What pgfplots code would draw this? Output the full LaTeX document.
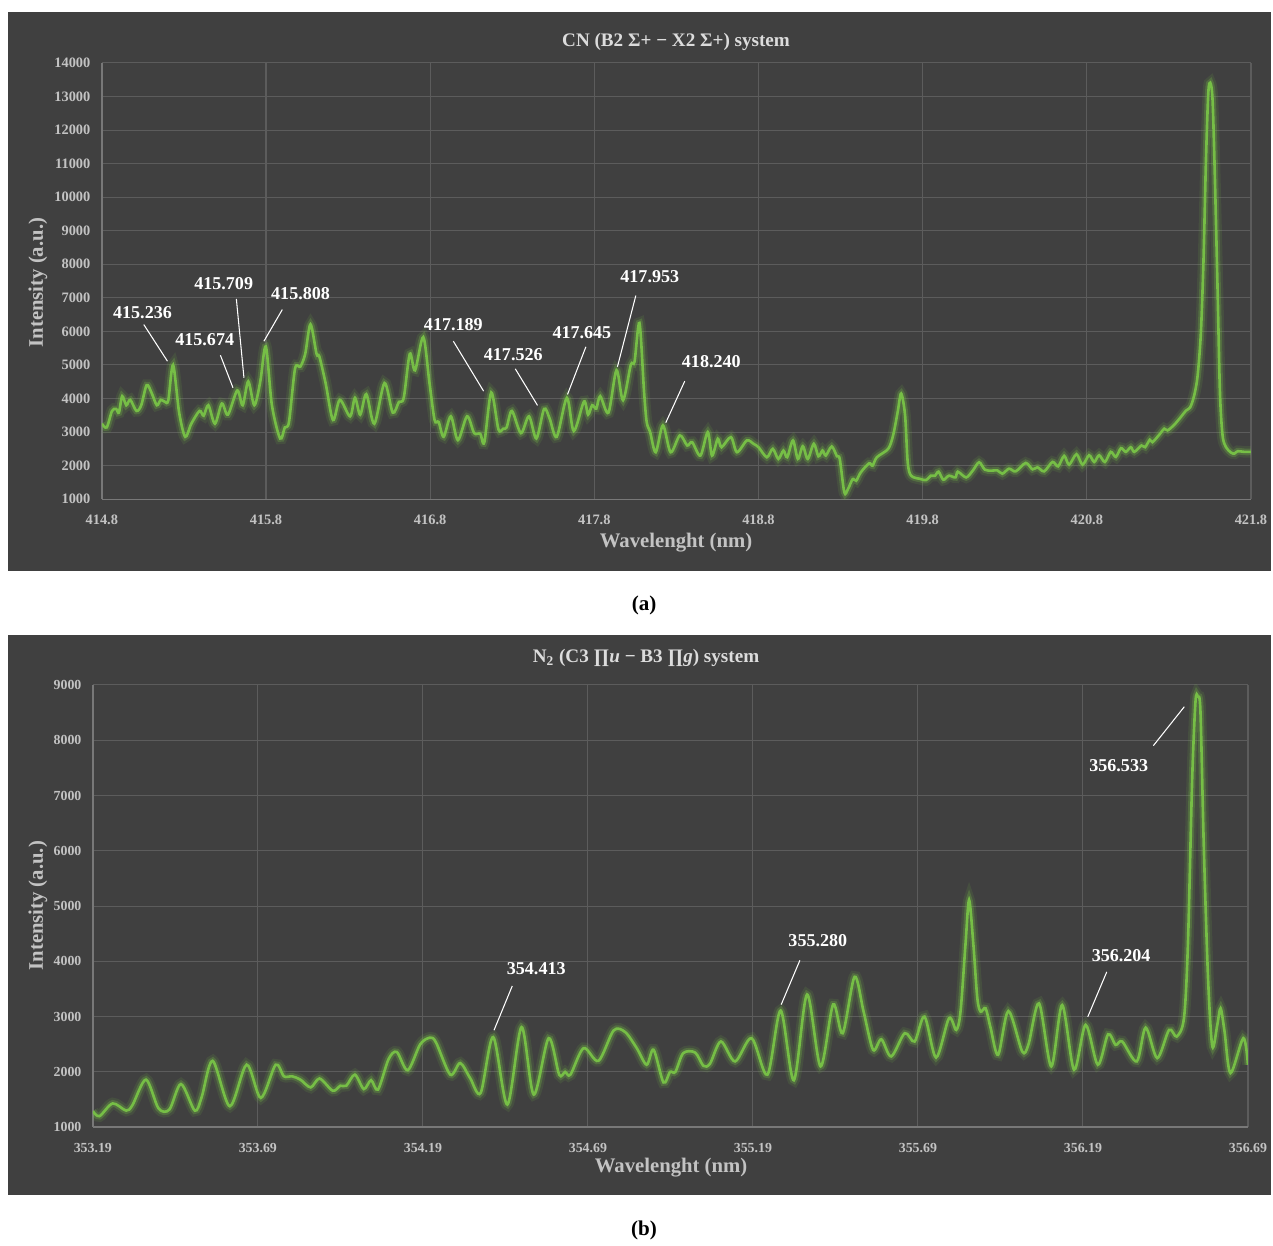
\documentclass[border=0pt]{standalone}
\usepackage{pgfplots}
\pgfplotsset{compat=1.18}
\usepackage{pgfplotstable}
\usepackage{fontspec}
\setmainfont{Liberation Serif}

\definecolor{panelbg}{RGB}{64,64,64}
\definecolor{gridgray}{RGB}{92,92,92}
\definecolor{axisgray}{RGB}{120,120,120}
\definecolor{ticktext}{RGB}{195,195,195}
\definecolor{titletext}{RGB}{220,220,220}
\definecolor{specgreen}{RGB}{118,190,70}

% CN band, wavelength (nm) vs intensity (a.u.)
\pgfplotstableread{
x y
414.800 3250
414.830 3140
414.862 3630
414.887 3690
414.904 3580
414.924 4070
414.949 3800
414.973 3960
415.011 3630
415.040 3800
415.073 4400
415.102 4180
415.135 3800
415.159 3960
415.185 3900
415.205 3950
415.234 5000
415.271 3580
415.308 2860
415.345 3250
415.395 3630
415.420 3490
415.449 3800
415.489 3250
415.531 3850
415.568 3520
415.625 4240
415.658 3800
415.692 4510
415.729 3800
415.765 4500
415.799 5550
415.836 3800
415.886 2810
415.915 3140
415.940 3300
415.977 4890
416.009 4950
416.039 5330
416.071 6210
416.108 5330
416.125 5250
416.163 4460
416.208 3360
416.250 3960
416.312 3470
416.342 4020
416.374 3520
416.411 4130
416.460 3250
416.522 4460
416.572 3580
416.610 3900
416.639 4020
416.676 5330
416.708 4840
416.758 5830
416.795 4500
416.827 3360
416.852 3300
416.882 2860
416.926 3470
416.969 2760
417.025 3470
417.068 2970
417.105 2950
417.130 2700
417.172 4180
417.216 3080
417.245 3100
417.266 3140
417.298 3630
417.353 2970
417.402 3470
417.447 2810
417.494 3690
417.528 3400
417.571 2860
417.633 4020
417.675 3030
417.737 3910
417.762 3520
417.787 3800
417.812 3700
417.836 4070
417.886 3580
417.935 4840
417.975 3950
418.022 5000
418.045 5100
418.075 6250
418.103 4200
418.119 3300
418.140 3000
418.174 2400
418.218 3200
418.265 2400
418.321 2900
418.366 2600
418.396 2700
418.446 2300
418.491 3000
418.517 2300
418.552 2800
418.575 2550
418.632 2850
418.669 2400
418.729 2750
418.770 2650
418.800 2550
418.851 2250
418.887 2500
418.921 2200
418.952 2450
418.975 2250
419.010 2750
419.040 2200
419.070 2580
419.100 2200
419.137 2650
419.165 2280
419.190 2450
419.210 2300
419.246 2570
419.278 2280
419.295 2200
419.323 1200
419.345 1300
419.374 1600
419.395 1550
419.423 1800
419.474 2070
419.495 2000
419.521 2250
419.590 2500
419.620 2900
419.648 3600
419.669 4150
419.693 3500
419.709 2100
419.730 1700
419.789 1600
419.820 1570
419.850 1700
419.875 1700
419.897 1820
419.926 1580
419.960 1700
420.000 1650
420.014 1820
420.065 1650
420.105 1850
420.144 2100
420.179 1880
420.220 1850
420.255 1860
420.286 1760
420.326 1910
420.367 1830
420.428 2080
420.469 1890
420.500 1950
420.540 1830
420.591 2110
420.625 1980
420.662 2290
420.692 2030
420.737 2340
420.774 2030
420.814 2310
420.845 2110
420.875 2310
420.910 2110
420.946 2410
420.977 2260
421.008 2520
421.038 2410
421.068 2550
421.089 2410
421.133 2600
421.155 2550
421.184 2770
421.200 2700
421.241 2920
421.272 3100
421.292 3050
421.333 3220
421.373 3450
421.404 3640
421.430 3740
421.454 4090
421.475 4680
421.495 5970
421.511 8150
421.526 11120
421.540 13100
421.552 13410
421.566 12900
421.580 10620
421.597 7160
421.611 4190
421.627 2900
421.648 2550
421.678 2390
421.699 2360
421.719 2430
421.759 2410
421.800 2410
}\cndata

% N2 band
\pgfplotstableread{
x y
353.190 1290
353.210 1200
353.250 1430
353.291 1300
353.310 1400
353.351 1860
353.389 1340
353.422 1320
353.457 1780
353.499 1300
353.520 1550
353.553 2200
353.605 1380
353.656 2130
353.699 1530
353.744 2130
353.769 1920
353.794 1920
353.819 1860
353.850 1720
353.877 1880
353.917 1660
353.940 1750
353.958 1750
353.984 1950
354.011 1690
354.033 1850
354.054 1680
354.086 2230
354.111 2360
354.144 2030
354.182 2500
354.212 2620
354.230 2530
354.273 1950
354.303 2160
354.333 1890
354.365 1620
354.403 2630
354.446 1410
354.489 2810
354.526 1590
354.571 2610
354.603 1950
354.621 2000
354.637 1950
354.677 2430
354.722 2200
354.768 2750
354.803 2720
354.838 2430
354.868 2130
354.889 2400
354.919 1810
354.939 2000
354.955 2000
354.979 2340
355.015 2350
355.040 2110
355.060 2150
355.093 2550
355.136 2190
355.186 2610
355.234 1950
355.274 3110
355.314 1850
355.354 3400
355.395 2100
355.433 3220
355.462 2700
355.498 3720
355.525 3100
355.554 2400
355.579 2590
355.609 2280
355.650 2700
355.680 2550
355.710 3000
355.745 2260
355.784 2970
355.806 2760
355.819 3090
355.834 4300
355.845 5110
355.858 4300
355.870 3330
355.880 3090
355.895 3150
355.910 2800
355.933 2310
355.964 3100
356.006 2370
356.025 2500
356.057 3240
356.094 2100
356.127 3210
356.163 2040
356.198 2850
356.235 2130
356.266 2680
356.289 2490
356.309 2550
356.353 2190
356.380 2800
356.415 2250
356.451 2760
356.474 2640
356.496 2970
356.508 4300
356.521 7310
356.531 8700
356.538 8790
356.546 8520
356.556 6110
356.569 3700
356.582 2460
356.597 2850
356.607 3150
356.619 2730
356.637 1980
356.676 2610
356.690 2130
}\ntwodata

\pgfplotsset{
  panel/.style={
    scale only axis,
    anchor=south west,
    axis lines*=left,
    axis line style={-, draw=axisgray, line width=0.8pt},
    grid=major,
    major grid style={draw=gridgray, line width=0.6pt},
    major tick length=0pt,
    scaled y ticks=false,
    scaled x ticks=false,
    tick label style={text=ticktext, font=\bfseries\fontsize{8.2}{9}\selectfont},
    /pgf/number format/1000 sep={},
    /pgf/number format/assume math mode=true,
    yticklabel style={xshift=-3pt},
    xticklabel style={yshift=-5.5pt},
    clip=true,
  },
  glowA/.style={draw=specgreen, line width=6.5pt, opacity=0.12, smooth, tension=0.5, no markers},
  glowB/.style={draw=specgreen, line width=3.8pt, opacity=0.28, smooth, tension=0.5, no markers},
  spec/.style={draw=specgreen, line width=1.5pt, smooth, tension=0.5, no markers},
}

\begin{document}
\begin{tikzpicture}
\begin{scope}[x=0.02cm, y=-0.02cm]
  \fill[white] (0,0) rectangle (1273,1244);
  \fill[panelbg] (8,12) rectangle (1273,572);
  \fill[panelbg] (8,636) rectangle (1273,1197);
\end{scope}

% (a) CN
\begin{axis}[panel,
  at={(2.04cm,-10cm)},
  width=23.02cm, height=8.74cm,
  xmin=414.8, xmax=421.8, ymin=1000, ymax=14000,
  xtick={414.8,415.8,416.8,417.8,418.8,419.8,420.8,421.8},
  xticklabels={414.8,415.8,416.8,417.8,418.8,419.8,420.8,421.8},
  ytick={1000,2000,...,14000},
  yticklabels={1000,2000,3000,4000,5000,6000,7000,8000,9000,10000,11000,12000,13000,14000},
]
  \addplot[glowA] table {\cndata};
  \addplot[glowB] table {\cndata};
  \addplot[spec] table {\cndata};
\end{axis}

% (b) N2
\begin{axis}[panel,
  at={(1.86cm,-22.58cm)},
  width=23.14cm, height=8.86cm,
  xmin=353.19, xmax=356.69, ymin=1000, ymax=9000,
  xtick={353.19,353.69,354.19,354.69,355.19,355.69,356.19,356.69},
  xticklabels={353.19,353.69,354.19,354.69,355.19,355.69,356.19,356.69},
  ytick={1000,2000,...,9000},
  yticklabels={1000,2000,3000,4000,5000,6000,7000,8000,9000},
  tick label style={font=\bfseries\fontsize{7.9}{9}\selectfont},
]
  \addplot[glowA] table {\ntwodata};
  \addplot[glowB] table {\ntwodata};
  \addplot[spec] table {\ntwodata};
\end{axis}

\begin{scope}[x=0.02cm, y=-0.02cm,
  anno/.style={text=white, font=\bfseries\fontsize{10.3}{12}\selectfont, inner sep=0pt},
  lead/.style={draw=white, line width=0.6pt},
  lab/.style={text=ticktext, font=\bfseries\fontsize{11.8}{13}\selectfont, inner sep=0pt},
  ttl/.style={text=titletext, font=\bfseries\fontsize{10.9}{13}\selectfont, inner sep=0pt}]
  % panel (a) texts
  \node[ttl] at (677,42) {CN (B2 Σ+ − X2 Σ+) system};
  \node[lab] at (677,543) {Wavelenght (nm)};
  \node[lab, rotate=90] at (38,283) {Intensity (a.u.)};
  \node[anno] at (142.7,312.7) {415.236};
  \draw[lead] (144,325) -- (167.7,361.7);
  \node[anno] at (205,340) {415.674};
  \draw[lead] (220.7,355.7) -- (233.3,388.3);
  \node[anno] at (224,284) {415.709};
  \draw[lead] (236.7,299.3) -- (244.3,378.3);
  \node[anno] at (301,294) {415.808};
  \draw[lead] (282.7,310) -- (264.3,341.7);
  \node[anno] at (454,325) {417.189};
  \draw[lead] (454,341.7) -- (484.3,391.7);
  \node[anno] at (514,355) {417.526};
  \draw[lead] (516,369.3) -- (538.3,406);
  \node[anno] at (582.7,332.7) {417.645};
  \draw[lead] (586.7,347.3) -- (568.3,395);
  \node[anno] at (650.7,277.3) {417.953};
  \draw[lead] (636.7,296) -- (618.3,367.3);
  \node[anno] at (712.3,361.7) {418.240};
  \draw[lead] (685.7,381.7) -- (666.7,423.3);
  \node[font=\bfseries\fontsize{12}{14}\selectfont] at (645,606) {(a)};
  % panel (b) texts
  \node[ttl] at (647,659) {N\textsubscript{2} (C3 ∏\textit{u} − B3 ∏\textit{g}) system};
  \node[lab] at (672,1169) {Wavelenght (nm)};
  \node[lab, rotate=90] at (38,907) {Intensity (a.u.)};
  \node[anno] at (537,970) {354.413};
  \draw[lead] (513,987.3) -- (494.7,1031.7);
  \node[anno] at (819,942.3) {355.280};
  \draw[lead] (801,961.7) -- (782.3,1006);
  \node[anno] at (1122.7,956.7) {356.204};
  \draw[lead] (1108.3,973.3) -- (1089.3,1018.3);
  \node[anno] at (1120.3,766.7) {356.533};
  \draw[lead] (1186,707.7) -- (1155,746.7);
  \node[font=\bfseries\fontsize{12}{14}\selectfont] at (645,1232) {(b)};
\end{scope}
\end{tikzpicture}
\end{document}
